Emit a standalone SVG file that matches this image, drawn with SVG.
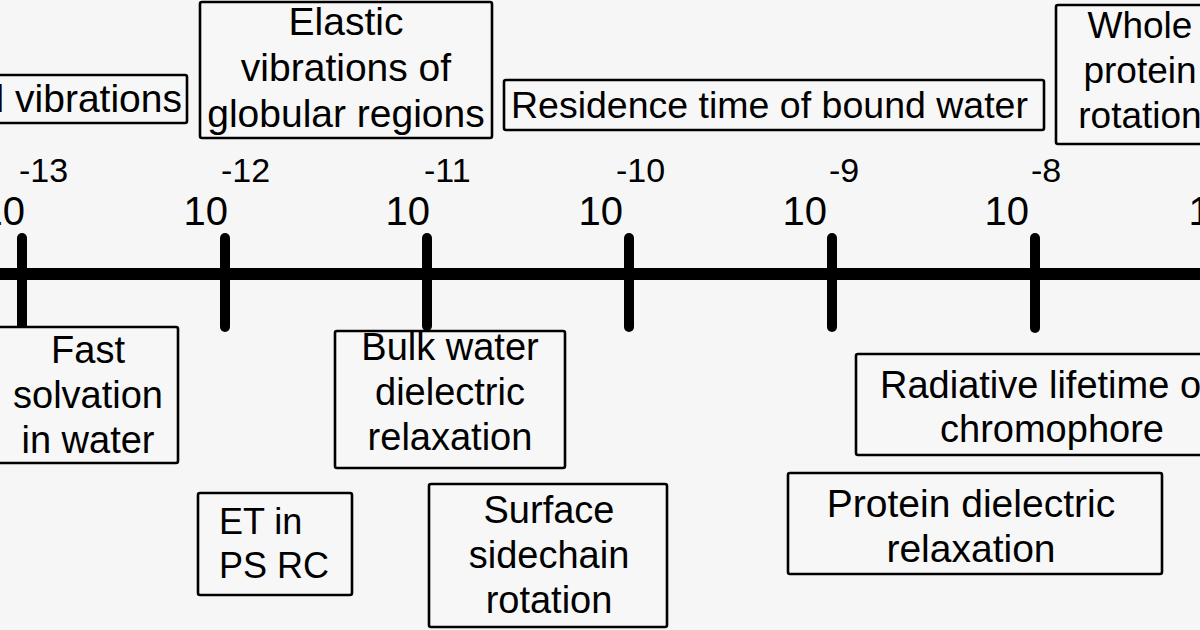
<svg xmlns="http://www.w3.org/2000/svg" width="1200" height="630" viewBox="0 0 1200 630">
<style>
.box{fill:#f7f7f7;stroke:#000;stroke-width:2.6}
.t{font-family:"Liberation Sans",Arial,sans-serif;fill:#000;font-size:38px;text-anchor:middle}
.s{text-anchor:start}
.e{text-anchor:end}
.base{font-family:"Liberation Sans",Arial,sans-serif;fill:#000;font-size:40px;text-anchor:end}
.exp{font-family:"Liberation Sans",Arial,sans-serif;fill:#000;font-size:34px;text-anchor:start}
.tick{stroke:#000;stroke-width:10;stroke-linecap:round}
</style>
<rect width="1200" height="630" fill="#f6f6f6"/>

<g id="axis">
<line x1="0" y1="274" x2="1200" y2="274" stroke="#000" stroke-width="12"/>
<line class="tick" x1="22" y1="238" x2="22" y2="326"/>
<line class="tick" x1="225" y1="238" x2="225" y2="327"/>
<line class="tick" x1="427" y1="238" x2="427" y2="326"/>
<line class="tick" x1="629" y1="238" x2="629" y2="327"/>
<line class="tick" x1="832" y1="238" x2="832" y2="327"/>
<line class="tick" x1="1035" y1="238" x2="1035" y2="328"/>
</g>

<g id="axis-labels">
<text class="base" x="25" y="225">10</text>
<text class="base" x="228" y="225">10</text>
<text class="base" x="430" y="225">10</text>
<text class="base" x="623" y="225">10</text>
<text class="base" x="827" y="225">10</text>
<text class="base" x="1029" y="225">10</text>
<text class="base" x="1233" y="225">10</text>
<text class="exp" x="19" y="182">-13</text>
<text class="exp" x="221" y="182">-12</text>
<text class="exp" x="424" y="182">-11</text>
<text class="exp" x="616" y="182">-10</text>
<text class="exp" x="829" y="182">-9</text>
<text class="exp" x="1031" y="182">-8</text>
</g>

<g id="node-vibrations">
<rect class="box" x="-10" y="75" width="197" height="48" rx="2"/>
<text class="t e" x="182" y="112" style="font-size:39px">l vibrations</text>
</g>

<g id="node-elastic">
<rect class="box" x="200" y="2" width="292" height="136" rx="2"/>
<text class="t" x="346" y="35" style="font-size:39px">Elastic</text>
<text class="t" x="346" y="81" style="font-size:39px">vibrations of</text>
<text class="t" x="346" y="127" style="font-size:39px">globular regions</text>
</g>

<g id="node-residence">
<rect class="box" x="504" y="80" width="540" height="50" rx="2"/>
<text class="t s" x="511" y="118" style="font-size:37.5px">Residence time of bound water</text>
</g>

<g id="node-whole">
<rect class="box" x="1056" y="5" width="170" height="139" rx="2"/>
<text class="t" x="1140" y="38" style="font-size:37px">Whole</text>
<text class="t" x="1140" y="83" style="font-size:37px">protein</text>
<text class="t" x="1140" y="128" style="font-size:37px">rotation</text>
</g>

<g id="node-fast">
<rect class="box" x="-10" y="327" width="188" height="136" rx="2"/>
<text class="t" x="88" y="363">Fast</text>
<text class="t" x="88" y="408">solvation</text>
<text class="t" x="88" y="453">in water</text>
</g>

<g id="node-bulk">
<rect class="box" x="335" y="331" width="230" height="137" rx="2"/>
<text class="t" x="450" y="360">Bulk water</text>
<text class="t" x="450" y="405">dielectric</text>
<text class="t" x="450" y="450">relaxation</text>
</g>

<g id="node-et">
<rect class="box" x="198" y="493" width="154" height="102" rx="2"/>
<text class="t s" x="219" y="534" style="font-size:36px">ET in</text>
<text class="t s" x="219" y="578" style="font-size:36px">PS RC</text>
</g>

<g id="node-surface">
<rect class="box" x="429" y="484" width="238" height="143" rx="2"/>
<text class="t" x="549" y="523">Surface</text>
<text class="t" x="549" y="568">sidechain</text>
<text class="t" x="549" y="613">rotation</text>
</g>

<g id="node-radiative">
<rect class="box" x="856" y="354" width="370" height="101" rx="2"/>
<text class="t s" x="880" y="398">Radiative lifetime o</text>
<text class="t" x="1052" y="442">chromophore</text>
</g>

<g id="node-protein">
<rect class="box" x="788" y="473" width="374" height="101" rx="2"/>
<text class="t" x="971" y="517" style="font-size:39px">Protein dielectric</text>
<text class="t" x="971" y="562" style="font-size:39px">relaxation</text>
</g>
</svg>
